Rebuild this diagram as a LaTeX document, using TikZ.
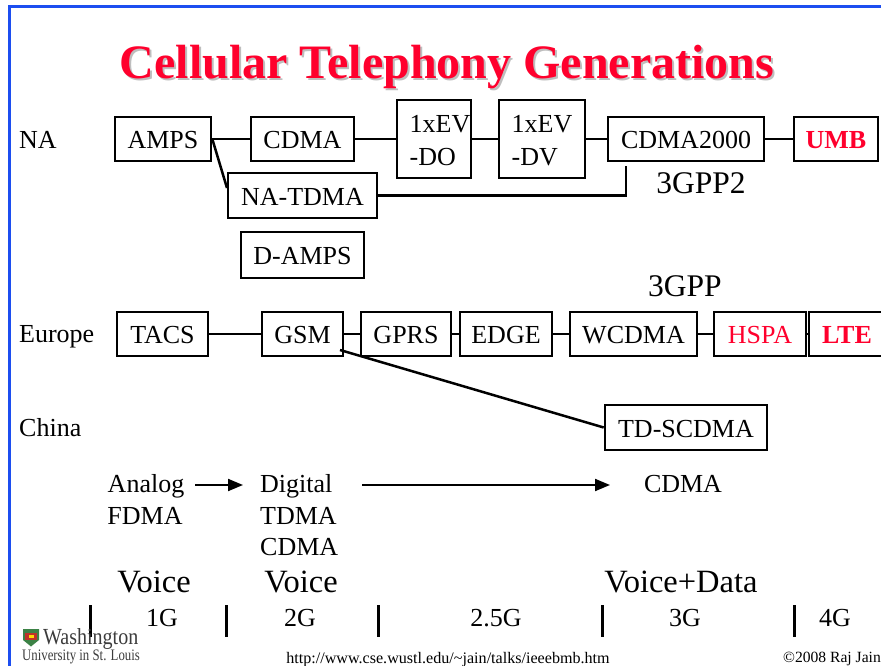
\documentclass[tikz,border=0pt]{standalone}
\usepackage{fontspec}
\setmainfont{Liberation Serif}
\usetikzlibrary{arrows.meta}
\definecolor{framec}{RGB}{28,78,240}
\definecolor{titlered}{RGB}{255,0,45}
\definecolor{shadowc}{RGB}{190,190,190}
\definecolor{logogreen}{RGB}{60,130,70}
\definecolor{logored}{RGB}{190,50,40}
\definecolor{logotext}{RGB}{60,60,60}
\tikzset{
  x=1pt,y=-1pt,
  boxn/.style={draw=black,line width=2.6pt,inner sep=0pt,align=center,text height=19pt,text depth=0pt,font=\fontsize{26}{33}\selectfont},
  twoline/.style={align=left,text height=,text depth=0pt},
  lab/.style={inner sep=0pt,align=left,anchor=west,text height=17pt,text depth=0pt,font=\fontsize{26}{32}\selectfont},
  big/.style={inner sep=0pt,anchor=center,text height=21pt,text depth=0pt,font=\fontsize{32.5}{36}\selectfont},
  gpp/.style={inner sep=0pt,anchor=center,text height=21pt,text depth=0pt,font=\fontsize{31.5}{36}\selectfont},
  mid/.style={inner sep=0pt,anchor=center,text height=17pt,text depth=0pt,font=\fontsize{26}{32}\selectfont},
  conn/.style={line width=2.5pt,black},
  tick/.style={line width=3pt,black},
  arr/.style={line width=2pt,black,-{Triangle[length=15pt,width=12pt]}},
  smallt/.style={inner sep=0pt,anchor=center,font=\fontsize{16.1}{18}\selectfont},
  ttl/.style={inner sep=0pt,anchor=center,font=\fontsize{48}{52}\selectfont\bfseries}
}
\begin{document}
\begin{tikzpicture}
\useasboundingbox (0,0) rectangle (881,666);
\fill[white] (0,0) rectangle (881,666);
% frame
\coordinate (fa) at (9.5,666); \coordinate (fb) at (9.5,6.5); \coordinate (fc) at (881,6.5);
\draw[framec,line width=3pt] (fa) -- (fb) -- (fc);
% title
\node[ttl,text=shadowc] (titleS) at (449,69) {Cellular Telephony Generations};
\node[ttl,text=titlered] (title) at (447,67) {Cellular Telephony Generations};
% row labels
\node[lab] (na) at (19,140) {NA};
\node[lab] (eu) at (19,334) {Europe};
\node[lab] (cn) at (19,428) {China};
% NA row
\node[boxn,minimum width=96pt,minimum height=44pt] (amps) at (163,139) {AMPS};
\node[boxn,minimum width=103pt,minimum height=44pt] (cdma) at (302.5,139) {CDMA};
\node[boxn,twoline,minimum width=74pt,minimum height=78pt] (do) at (434,139) {\rule{0pt}{20.5pt}\hspace*{12pt}1xEV\\\hspace*{12pt}-DO};
\node[boxn,twoline,minimum width=86pt,minimum height=78pt] (dv) at (542,139) {\rule{0pt}{20.5pt}1xEV\\-DV};
\node[boxn,minimum width=156pt,minimum height=44pt] (c2k) at (686,139) {CDMA2000};
\node[boxn,minimum width=84pt,minimum height=44pt,text=titlered,font=\fontsize{26}{32}\selectfont\bfseries] (umb) at (836,139) {UMB};
\node[boxn,minimum width=149pt,minimum height=45pt] (tdma) at (302.5,195.5) {NA-TDMA};
\node[boxn,minimum width=123pt,minimum height=46pt] (damps) at (302.5,255) {D-AMPS};
\node[gpp] (g2) at (701,183) {3GPP2};
% Europe row
\node[gpp] (g3) at (685,286) {3GPP};
\node[boxn,minimum width=91pt,minimum height=44pt] (tacs) at (162.5,334) {TACS};
\node[boxn,minimum width=81pt,minimum height=44pt] (gsm) at (302.5,334) {GSM};
\node[boxn,minimum width=90pt,minimum height=44pt] (gprs) at (406,334) {GPRS};
\node[boxn,minimum width=92pt,minimum height=44pt] (edge) at (506,334) {EDGE};
\node[boxn,minimum width=127pt,minimum height=44pt] (wcdma) at (633.5,334) {WCDMA};
\node[boxn,minimum width=92pt,minimum height=44pt,text=titlered] (hspa) at (760,334) {HSPA};
\node[boxn,minimum width=76pt,minimum height=44pt,text=titlered,font=\fontsize{26}{32}\selectfont\bfseries] (lte) at (847,334) {LTE};
\node[boxn,minimum width=162pt,minimum height=45pt] (td) at (686,427.5) {TD-SCDMA};
% connectors
\draw[conn] (amps) -- (cdma);
\draw[conn] (cdma) -- (do);
\draw[conn] (do) -- (dv);
\draw[conn] (dv) -- (c2k);
\draw[conn] (c2k) -- (umb);
\coordinate (tdmain) at (227,188);
\draw[conn] (amps.east) -- (tdmain);
\coordinate (c2kstub) at (626,166);
\draw[conn] (tdma.east) -- (tdma.east -| c2kstub) -- (c2kstub);
\draw[conn] (tacs) -- (gsm);
\draw[conn] (gsm) -- (gprs);
\draw[conn] (gprs) -- (edge);
\draw[conn] (edge) -- (wcdma);
\draw[conn] (wcdma) -- (hspa);
\draw[conn] (hspa) -- (lte);
\coordinate (gsmout) at (340,350);
\draw[conn] (gsmout) -- (td.west);
% technology labels
\node[mid] (analog) at (146,484) {Analog};
\node[mid] (fdma) at (145,516) {FDMA};
\node[lab] (digital) at (260,484) {Digital};
\node[lab] (tdmat) at (260,516) {TDMA};
\node[lab] (cdmat) at (260,547) {CDMA};
\node[mid] (cdma3) at (683,484) {CDMA};
\coordinate (a0) at (195,485);
\coordinate (a1) at (243,485);
\draw[arr] (a0) -- (a1);
\coordinate (a2) at (362,485);
\coordinate (a3) at (610,485);
\draw[arr] (a2) -- (a3);
% services
\node[big] (v1) at (154,582) {Voice};
\node[big] (v2) at (301,582) {Voice};
\node[big] (vd) at (681,582) {Voice+Data};
% generations
\node[mid] (g1t) at (162,618) {1G};
\node[mid] (g2t) at (300,618) {2G};
\node[mid] (g25t) at (496,618) {2.5G};
\node[mid] (g3t) at (685,618) {3G};
\node[mid] (g4t) at (835,618) {4G};
\foreach \xx/\nm in {90/a,226/b,378/c,602/d,794/e}{
  \coordinate (t\nm1) at (\xx,605); \coordinate (t\nm2) at (\xx,637);
  \draw[tick] (t\nm1) -- (t\nm2);
}
% logo
\fill[logogreen] (23,629) -- (39,629) -- (39,640) -- (31,646.5) -- (23,640) -- cycle;
\fill[logored] (25,633) rectangle (37,640);
\fill[yellow!80!orange] (28.5,635) rectangle (33.5,638);
\node[inner sep=0pt,anchor=west,text=logotext] (w1) at (43,639) {\fontsize{23}{24}\selectfont\addfontfeatures{FakeStretch=0.87}Washington};
\node[inner sep=0pt,anchor=west,text=logotext] (w2) at (22,656.5) {\fontsize{16}{18}\selectfont\addfontfeatures{FakeStretch=0.8}University in St. Louis};
% footer
\node[smallt] (url) at (448,660) {http://www.cse.wustl.edu/\~{}jain/talks/ieeebmb.htm};
\node[smallt,anchor=west,font=\fontsize{15.6}{18}\selectfont] (copy) at (783,659) {©2008 Raj Jain};
\end{tikzpicture}
\end{document}
